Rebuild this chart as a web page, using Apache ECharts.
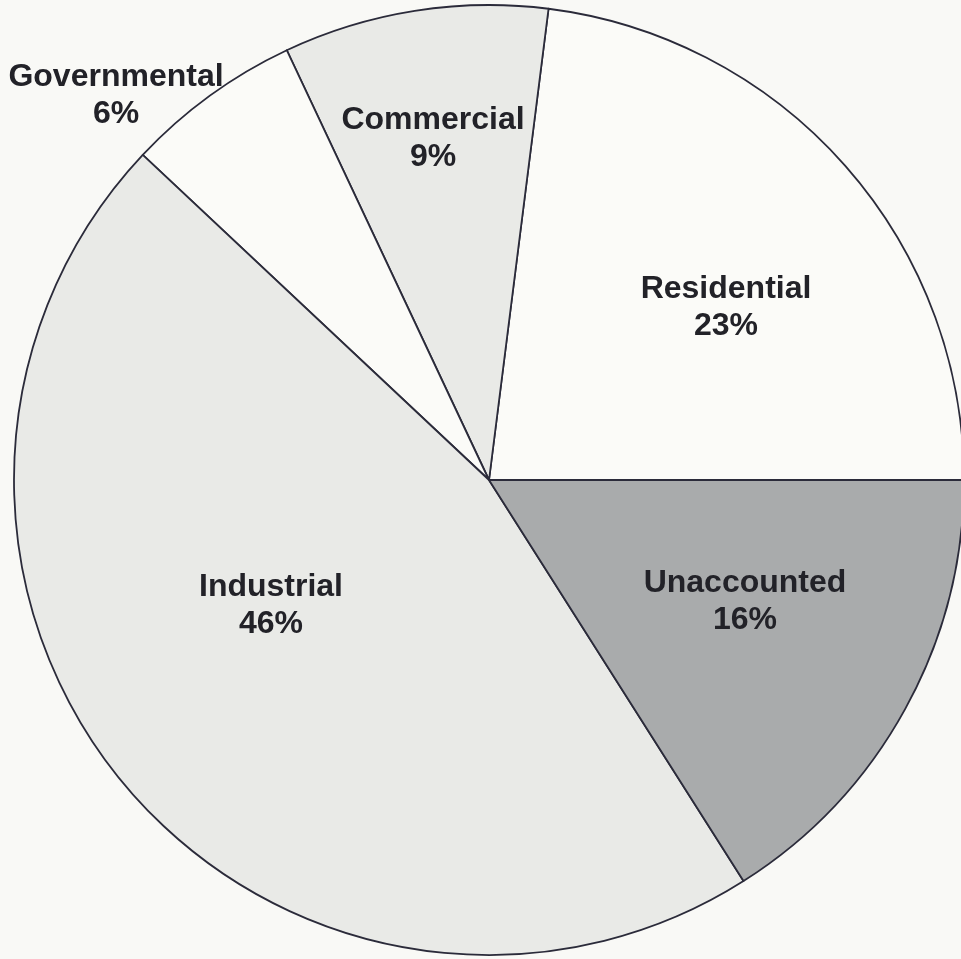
<!DOCTYPE html>
<html>
<head>
<meta charset="utf-8">
<script src="https://cdn.jsdelivr.net/npm/echarts@6/dist/echarts.min.js"></script>
<style>
html,body{margin:0;padding:0;background:#f9f9f6;}
#chart{width:961px;height:959px;}
</style>
</head>
<body>
<div id="chart"></div>
<script>
// Data
const categories = ['Residential', 'Commercial', 'Governmental', 'Industrial', 'Unaccounted'];
const shares = [23, 9, 6, 46, 16];
const sliceColors = ['#fbfbf8', '#e9eae7', '#fbfbf8', '#e9eae7', '#a9abac'];

// Label anchor positions (layout only)
const labelAnchors = [[726, 308], [433, 139], [116, 96], [271, 606], [745, 602]];

const chart = echarts.init(document.getElementById('chart'), null, {renderer: 'canvas'});
chart.setOption({
  backgroundColor: '#f9f9f6',
  animation: false,
  series: [{
    type: 'pie',
    center: [489, 480],
    radius: 475,
    startAngle: 0,
    clockwise: false,
    avoidLabelOverlap: false,
    data: categories.map((c, i) => ({
      name: c,
      value: shares[i],
      itemStyle: {color: sliceColors[i]}
    })),
    itemStyle: {borderColor: '#2b2b3a', borderWidth: 1.8},
    label: {
      show: true,
      position: 'inside',
      formatter: p => p.name + '\n' + p.value + '%',
      fontFamily: "'Liberation Sans', Arial, sans-serif",
      fontWeight: 'bold',
      fontSize: 32,
      lineHeight: 37,
      color: '#222228',
      align: 'center'
    },
    labelLine: {show: false},
    labelLayout: function (params) {
      const a = labelAnchors[params.dataIndex];
      return {x: a[0], y: a[1], align: 'center', verticalAlign: 'middle'};
    },
    emphasis: {disabled: true}
  }]
});
</script>
</body>
</html>
